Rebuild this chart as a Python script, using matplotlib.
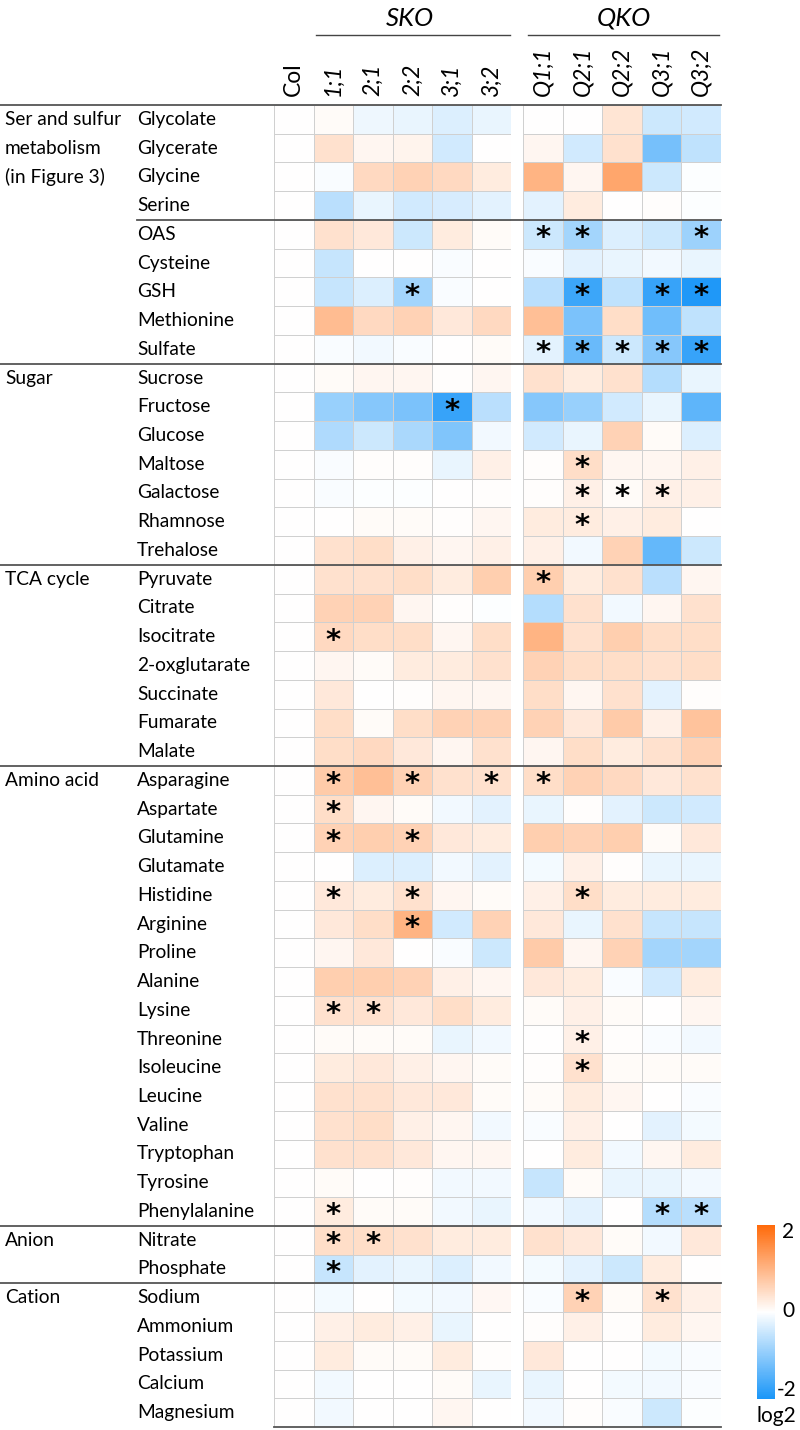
import numpy as np
import matplotlib
matplotlib.use("Agg")
import matplotlib.pyplot as plt
from matplotlib.colors import LinearSegmentedColormap, Normalize
from matplotlib.lines import Line2D
import matplotlib.colorbar as mcolorbar

plt.rcParams['font.family'] = ['Lato', 'DejaVu Sans']

# column labels
sko_cols = ['Col', '1;1', '2;1', '2;2', '3;1', '3;2']
qko_cols = ['Q1;1', 'Q2;1', 'Q2;2', 'Q3;1', 'Q3;2']

# groups and metabolites
groups = ['Ser and sulfur', 'Sugar', 'TCA cycle', 'Amino acid', 'Anion', 'Cation']
group_sizes = [9, 7, 7, 16, 2, 5]
metabolites = ['Glycolate', 'Glycerate', 'Glycine', 'Serine', 'OAS', 'Cysteine', 'GSH',
               'Methionine', 'Sulfate',
               'Sucrose', 'Fructose', 'Glucose', 'Maltose', 'Galactose', 'Rhamnose', 'Trehalose',
               'Pyruvate', 'Citrate', 'Isocitrate', '2-oxglutarate', 'Succinate', 'Fumarate', 'Malate',
               'Asparagine', 'Aspartate', 'Glutamine', 'Glutamate', 'Histidine', 'Arginine',
               'Proline', 'Alanine', 'Lysine', 'Threonine', 'Isoleucine', 'Leucine', 'Valine',
               'Tryptophan', 'Tyrosine', 'Phenylalanine',
               'Nitrate', 'Phosphate',
               'Sodium', 'Ammonium', 'Potassium', 'Calcium', 'Magnesium']

# log2 ratio vs Col, SKO lines (1;1 2;1 2;2 3;1 3;2)
sko_vals = [
    [0.05, -0.15, -0.2, -0.3, -0.2],
    [0.4, 0.12, 0.15, -0.4, 0.0],
    [-0.06, 0.5, 0.6, 0.5, 0.25],
    [-0.6, -0.2, -0.4, -0.35, -0.25],
    [0.4, 0.3, -0.45, 0.25, 0.06],
    [-0.5, 0.0, 0.0, -0.06, 0.0],
    [-0.5, -0.3, -0.8, -0.06, 0.0],
    [0.9, 0.5, 0.6, 0.3, 0.5],
    [-0.06, -0.12, -0.06, 0.0, 0.06],
    [0.06, 0.12, 0.12, 0.03, 0.12],
    [-0.9, -1.05, -1.15, -1.75, -0.6],
    [-0.7, -0.45, -0.75, -1.1, -0.12],
    [-0.06, 0.03, 0.03, -0.2, 0.2],
    [-0.06, -0.03, -0.03, 0.0, 0.03],
    [0.0, 0.06, 0.06, 0.03, 0.12],
    [0.4, 0.45, 0.2, 0.12, 0.2],
    [0.4, 0.4, 0.45, 0.25, 0.65],
    [0.6, 0.6, 0.12, 0.03, -0.03],
    [0.5, 0.45, 0.45, 0.12, 0.45],
    [0.12, 0.06, 0.25, 0.25, 0.4],
    [0.3, 0.0, 0.03, 0.12, 0.12],
    [0.45, 0.06, 0.45, 0.6, 0.6],
    [0.45, 0.5, 0.3, 0.12, 0.4],
    [0.7, 0.85, 0.6, 0.4, 0.4],
    [0.45, 0.12, 0.06, -0.12, -0.25],
    [0.6, 0.65, 0.6, 0.3, 0.25],
    [0.0, -0.3, -0.3, -0.12, -0.25],
    [0.3, 0.25, 0.4, 0.12, 0.06],
    [0.3, 0.45, 1.0, -0.4, 0.6],
    [0.12, 0.3, 0.0, -0.06, -0.45],
    [0.65, 0.65, 0.6, 0.2, 0.12],
    [0.4, 0.4, 0.3, 0.45, 0.25],
    [0.06, 0.06, 0.06, -0.2, -0.12],
    [0.25, 0.3, 0.2, 0.12, 0.06],
    [0.4, 0.4, 0.3, 0.3, 0.06],
    [0.4, 0.45, 0.2, 0.12, -0.12],
    [0.4, 0.4, 0.3, 0.12, 0.12],
    [0.06, 0.0, 0.03, -0.12, -0.12],
    [0.25, 0.06, 0.06, -0.12, -0.2],
    [0.45, 0.45, 0.4, 0.25, 0.25],
    [-0.5, -0.25, -0.2, -0.3, -0.12],
    [-0.1, 0.0, -0.1, -0.12, 0.1],
    [0.2, 0.25, 0.2, -0.2, 0.0],
    [0.25, 0.06, 0.06, 0.25, 0.03],
    [-0.12, 0.0, 0.0, 0.06, -0.2],
    [-0.12, 0.0, 0.0, 0.12, 0.0],
]

# QKO lines (Q1;1 Q2;1 Q2;2 Q3;1 Q3;2)
qko_vals = [
    [0.0, 0.0, 0.35, -0.45, -0.4],
    [0.12, -0.4, 0.4, -1.2, -0.55],
    [1.0, 0.12, 1.2, -0.45, -0.03],
    [-0.25, 0.25, 0.0, 0.03, -0.03],
    [-0.45, -0.8, -0.3, -0.45, -0.85],
    [-0.06, -0.25, -0.2, -0.12, -0.2],
    [-0.6, -1.7, -0.55, -1.75, -1.95],
    [0.85, -1.15, 0.45, -1.25, -0.55],
    [-0.25, -1.3, -0.45, -1.05, -1.75],
    [0.4, 0.25, 0.4, -0.65, -0.2],
    [-1.05, -0.9, -0.4, -0.2, -1.4],
    [-0.4, -0.2, 0.6, 0.06, -0.3],
    [0.03, 0.45, 0.12, 0.12, 0.2],
    [0.03, 0.2, 0.06, 0.2, 0.2],
    [0.25, 0.25, 0.2, 0.25, 0.0],
    [0.2, -0.12, 0.6, -1.35, -0.45],
    [0.65, 0.25, 0.4, -0.6, 0.12],
    [-0.65, 0.4, -0.12, 0.12, 0.4],
    [1.0, 0.4, 0.65, 0.45, 0.45],
    [0.6, 0.45, 0.45, 0.4, 0.45],
    [0.45, 0.12, 0.4, -0.25, 0.03],
    [0.6, 0.3, 0.7, 0.2, 0.8],
    [0.12, 0.45, 0.25, 0.4, 0.6],
    [0.45, 0.6, 0.5, 0.3, 0.4],
    [-0.2, 0.03, -0.25, -0.45, -0.4],
    [0.65, 0.6, 0.65, 0.06, 0.3],
    [-0.1, 0.2, 0.03, -0.2, -0.2],
    [0.2, 0.45, 0.25, 0.25, 0.25],
    [0.3, -0.2, 0.4, -0.5, -0.5],
    [0.7, 0.12, 0.6, -0.8, -0.8],
    [0.3, 0.25, -0.06, -0.4, 0.25],
    [0.06, 0.2, 0.06, 0.0, 0.12],
    [0.0, 0.2, 0.03, -0.06, -0.12],
    [0.03, 0.4, 0.06, 0.06, 0.06],
    [0.06, 0.25, 0.12, 0.0, -0.06],
    [-0.06, 0.2, 0.0, -0.25, -0.1],
    [0.0, 0.25, -0.12, 0.12, 0.25],
    [-0.5, 0.06, -0.2, -0.2, -0.12],
    [-0.12, -0.25, 0.0, -0.65, -0.6],
    [0.4, 0.3, 0.06, -0.12, 0.3],
    [-0.1, -0.25, -0.45, 0.25, 0.0],
    [-0.06, 0.6, 0.06, 0.4, 0.2],
    [0.03, 0.2, 0.03, 0.25, 0.12],
    [0.3, 0.0, 0.0, -0.1, -0.06],
    [-0.2, 0.0, -0.1, -0.12, -0.06],
    [-0.12, 0.03, -0.06, -0.45, -0.03],
]

# significant cells (metabolite, column)
stars = [('OAS', 'Q1;1'), ('OAS', 'Q2;1'), ('OAS', 'Q3;2'),
         ('GSH', '2;2'), ('GSH', 'Q2;1'), ('GSH', 'Q3;1'), ('GSH', 'Q3;2'),
         ('Sulfate', 'Q1;1'), ('Sulfate', 'Q2;1'), ('Sulfate', 'Q2;2'), ('Sulfate', 'Q3;1'),
         ('Sulfate', 'Q3;2'),
         ('Fructose', '3;1'), ('Maltose', 'Q2;1'),
         ('Galactose', 'Q2;1'), ('Galactose', 'Q2;2'), ('Galactose', 'Q3;1'),
         ('Rhamnose', 'Q2;1'), ('Pyruvate', 'Q1;1'), ('Isocitrate', '1;1'),
         ('Asparagine', '1;1'), ('Asparagine', '2;2'), ('Asparagine', '3;2'),
         ('Asparagine', 'Q1;1'),
         ('Aspartate', '1;1'), ('Glutamine', '1;1'), ('Glutamine', '2;2'),
         ('Histidine', '1;1'), ('Histidine', '2;2'), ('Histidine', 'Q2;1'),
         ('Arginine', '2;2'), ('Lysine', '1;1'), ('Lysine', '2;1'),
         ('Threonine', 'Q2;1'), ('Isoleucine', 'Q2;1'),
         ('Phenylalanine', '1;1'), ('Phenylalanine', 'Q3;1'), ('Phenylalanine', 'Q3;2'),
         ('Nitrate', '1;1'), ('Nitrate', '2;1'), ('Phosphate', '1;1'),
         ('Sodium', 'Q2;1'), ('Sodium', 'Q3;1')]

W, H = 800, 1430
fig = plt.figure(figsize=(W / 100, H / 100), dpi=100)

def fx(px):
    return px / W

def fy(py):
    return 1 - py / H

cmap = LinearSegmentedColormap.from_list('bwo', ['#1A96F8', '#FFFFFF', '#FF6A0A'])
norm = Normalize(-2, 2)

top, bottom = 105, 1427
n = len(metabolites)
rh = (bottom - top) / n

# heatmap blocks
sko_data = np.column_stack([np.zeros(n), np.array(sko_vals)])
qko_data = np.array(qko_vals)
blocks = [(sko_data, sko_cols, 274, 511), (qko_data, qko_cols, 523, 721)]
for data, cols, x0, x1 in blocks:
    ax = fig.add_axes([fx(x0), fy(bottom), fx(x1 - x0), (bottom - top) / H])
    ax.pcolormesh(data, cmap=cmap, norm=norm, edgecolors='#d0d0d0', linewidth=0.6)
    ax.set_xlim(0, len(cols))
    ax.set_ylim(n, 0)
    ax.axis('off')
    for m, c in stars:
        if c in cols:
            ax.text(cols.index(c) + 0.5, metabolites.index(m) + 0.64, '*',
                    ha='center', va='center', fontsize=21, color='black',
                    family='DejaVu Sans', weight='bold')
    cw = (x1 - x0) / len(cols)
    for j, c in enumerate(cols):
        style = 'normal' if c == 'Col' else 'italic'
        fig.text(fx(x0 + cw * (j + 0.5)), fy(96), c, rotation=90, ha='center', va='bottom',
                 fontsize=16.5, style=style)

# header group labels
fig.text(fx(410), fy(18), 'SKO', ha='center', va='center', fontsize=18.5, style='italic')
fig.text(fx(624), fy(18), 'QKO', ha='center', va='center', fontsize=18.5, style='italic')
fig.add_artist(Line2D([fx(316), fx(510)], [fy(35), fy(35)], color='#444444', lw=1))
fig.add_artist(Line2D([fx(528), fx(719)], [fy(35), fy(35)], color='#444444', lw=1))

# row labels
fs = 13.8
for i, m in enumerate(metabolites):
    fig.text(fx(137), fy(top + rh * (i + 0.5)), m, ha='left', va='center', fontsize=fs)

first_rows = np.cumsum([0] + group_sizes[:-1])
for g, r in zip(groups, first_rows):
    fig.text(fx(5), fy(top + rh * (r + 0.5)), g, ha='left', va='center', fontsize=fs)
fig.text(fx(5), fy(top + rh * 1.5), 'metabolism', ha='left', va='center', fontsize=fs)
fig.text(fx(5), fy(top + rh * 2.5), '(in Figure 3)', ha='left', va='center', fontsize=fs)

# separator lines
for r in list(first_rows) + [n]:
    y = fy(top + rh * r)
    x_start = 274 if r == n else 0
    fig.add_artist(Line2D([fx(x_start), fx(721)], [y, y], color='#555555', lw=1.3))
y = fy(top + rh * 4)
fig.add_artist(Line2D([fx(137), fx(721)], [y, y], color='#555555', lw=1.3))

# colorbar
cax = fig.add_axes([fx(757), fy(1399), fx(18), (1399 - 1225) / H])
cb = mcolorbar.ColorbarBase(cax, cmap=cmap, norm=norm, orientation='vertical')
cb.outline.set_visible(False)
cb.set_ticks([])
fig.text(fx(782), fy(1232), '2', ha='left', va='center', fontsize=15)
fig.text(fx(782), fy(1311), '0', ha='left', va='center', fontsize=15)
fig.text(fx(777), fy(1390), '-2', ha='left', va='center', fontsize=15)
fig.text(fx(776), fy(1416), 'log2', ha='center', va='center', fontsize=15)

fig.savefig('out.png', dpi=100)
